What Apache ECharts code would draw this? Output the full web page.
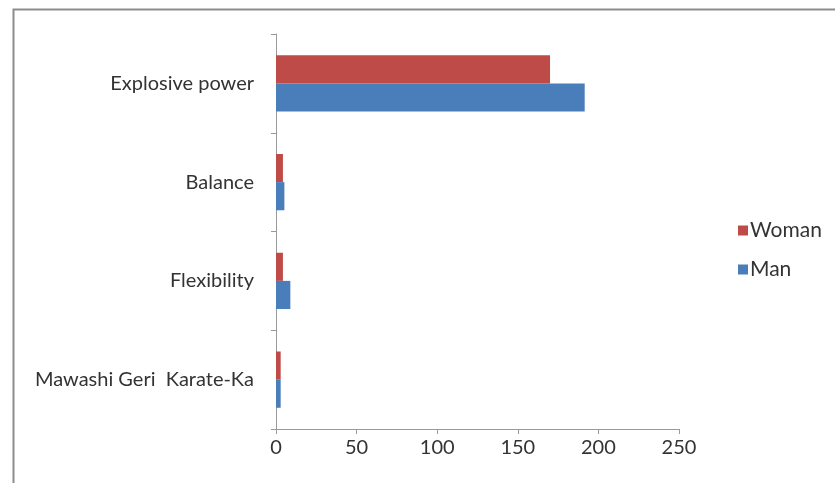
<!DOCTYPE html>
<html>
<head>
<meta charset="utf-8">
<script src="https://cdn.jsdelivr.net/npm/echarts@6/dist/echarts.min.js"></script>
<style>
  html, body { margin: 0; padding: 0; background: #fff; }
  #chart { width: 835px; height: 483px; }
</style>
</head>
<body>
<div id="chart"></div>
<script>
// Categories listed bottom to top, as the category axis runs upward
const categories = ['Mawashi Geri  Karate-Ka', 'Flexibility', 'Balance', 'Explosive power'];
const womanValues = [2.9, 4.3, 4.3, 170];
const manValues = [2.9, 8.9, 5.2, 191.5];
const xTicks = [0, 250, 50];   // min, max, interval

const textColor = '#333333';
const lineColor = '#9a9a9a';
const fontFamily = 'Lato, "Open Sans", sans-serif';

const chart = echarts.init(document.getElementById('chart'));
chart.setOption({
  animation: false,
  backgroundColor: '#ffffff',
  graphic: [{
    type: 'rect',
    shape: { x: 13.5, y: 9.5, width: 900, height: 600 },
    style: { fill: 'none', stroke: '#8c8c8c', lineWidth: 2 },
    silent: true
  }],
  grid: { left: 276, right: 156, top: 34, bottom: 54, containLabel: false },
  legend: {
    orient: 'vertical',
    left: 733,
    top: 215,
    data: ['Woman', 'Man'],
    icon: 'rect',
    itemWidth: 10,
    itemHeight: 10,
    itemGap: 18,
    textStyle: { color: textColor, fontSize: 21, fontFamily: fontFamily, padding: [0, 0, 0, -3] }
  },
  xAxis: {
    type: 'value',
    min: xTicks[0],
    max: xTicks[1],
    interval: xTicks[2],
    axisLine: { show: true, lineStyle: { color: lineColor, width: 1 } },
    axisTick: { show: true, length: 5, lineStyle: { color: lineColor } },
    splitLine: { show: false },
    axisLabel: { color: textColor, fontSize: 20, fontFamily: fontFamily, margin: 9 }
  },
  yAxis: {
    type: 'category',
    data: categories,
    axisLine: { show: true, lineStyle: { color: lineColor, width: 1 } },
    axisTick: { show: true, length: 5, alignWithLabel: false, lineStyle: { color: lineColor } },
    axisLabel: { color: textColor, fontSize: 20, fontFamily: fontFamily, margin: 22 }
  },
  series: [
    {
      name: 'Woman',
      type: 'bar',
      data: womanValues,
      itemStyle: { color: '#be4b48' },
      barGap: '0%',
      barCategoryGap: '43%'
    },
    {
      name: 'Man',
      type: 'bar',
      data: manValues,
      itemStyle: { color: '#4a7ebb' },
      barGap: '0%',
      barCategoryGap: '43%'
    }
  ]
});
</script>
</body>
</html>
